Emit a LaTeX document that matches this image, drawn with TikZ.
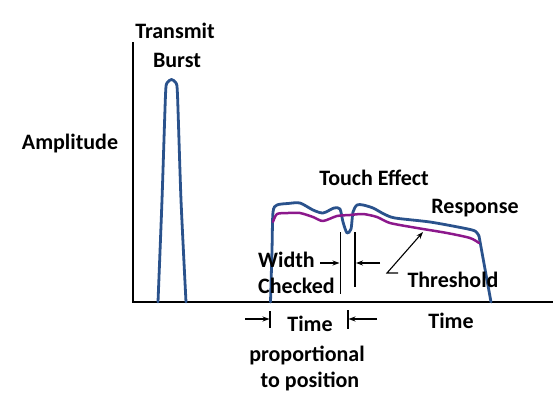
\documentclass[tikz,border=0pt]{standalone}
\usepackage{fontspec}
\setmainfont{Carlito}
\usetikzlibrary{arrows.meta}
\definecolor{sigblue}{RGB}{42,82,140}
\definecolor{thrpurple}{RGB}{140,24,140}
\tikzset{
  lbl/.style={font=\bfseries\fontsize{22}{27}\selectfont, inner sep=0pt, anchor=base},
  axisline/.style={line width=2.8pt, black},
  sig/.style={line width=2.8pt, sigblue, line join=round, line cap=round},
  thr/.style={line width=2.5pt, thrpurple, line join=round, line cap=round},
  marker/.style={line width=1.1pt, black},
  pointer/.style={line width=1.1pt, black, -{Stealth[length=7pt,width=5pt]}},
}
\begin{document}
\begin{tikzpicture}[x=1pt,y=-1pt]
\useasboundingbox (0,0) rectangle (558,397);
% axes
\coordinate (ytop) at (133,42);
\coordinate (orig) at (133,302);
\coordinate (xend) at (553,302);
\draw[axisline] (ytop) -- (orig) -- (xend);
% transmit burst
\draw[sig] plot[smooth, tension=0.4] coordinates {(158,302) (162,200) (165.5,95) (167,83) (171.5,79.5) (176,83) (177.5,95) (181,200) (186,302)};
% response
\draw[sig] plot[smooth, tension=0.45] coordinates {(270.5,302) (272,250) (273,212) (277,205) (288,203.5) (300,203) (313,210) (323,213) (334,208) (340,209) (343,222) (347,233) (351,229) (353,212) (357,205) (363,205) (373,208) (384,214) (395,218) (430,222) (463,228) (475,231) (479,236)};
\draw[sig] (479,236) -- (491,302);
% threshold
\draw[thr] plot[smooth, tension=0.45] coordinates {(273,222) (277,214) (288,213) (300,213) (313,217) (323,221) (337,216) (350,215) (363,214) (377,217) (390,223) (417,228) (447,233) (470,238) (479,243)};
% labels
\node[lbl] (transmit) at (175,38) {Transmit};
\node[lbl] (burst) at (177,67) {Burst};
\node[lbl] (amp) at (70,149) {Amplitude};
\node[lbl] (touch) at (374,185) {Touch Effect};
\node[lbl] (resp) at (475,213) {Response};
\node[lbl, anchor=base west] (width) at (258,267) {Width};
\node[lbl, anchor=base west] (checked) at (258,293) {Checked};
\node[lbl] (thresh) at (453,287) {Threshold};
\node[lbl] (time1) at (310,331) {Time};
\node[lbl] (prop) at (307,361) {proportional};
\node[lbl] (topos) at (310,387) {to position};
\node[lbl] (time2) at (451,328) {Time};
% width markers
\coordinate (wa1) at (340.5,232); \coordinate (wa2) at (340.5,294);
\coordinate (wb1) at (355,232); \coordinate (wb2) at (355,287);
\draw[marker] (wa1) -- (wa2);
\draw[marker] (wb1) -- (wb2);
\coordinate (wl0) at (320,263); \coordinate (wl1) at (339.5,263);
\coordinate (wr0) at (380,263); \coordinate (wr1) at (356,263);
\draw[pointer] (wl0) -- (wl1);
\draw[pointer] (wr0) -- (wr1);
% threshold pointer
\coordinate (th0) at (398,273); \coordinate (th1) at (387,273); \coordinate (th2) at (423,232);
\draw[pointer] (th0) -- (th1) -- (th2);
% time markers
\coordinate (ta1) at (270,311); \coordinate (ta2) at (270,328);
\coordinate (tb1) at (348,310); \coordinate (tb2) at (348,329);
\draw[marker] (ta1) -- (ta2);
\draw[marker] (tb1) -- (tb2);
\coordinate (tl0) at (245,319); \coordinate (tl1) at (269.5,319);
\coordinate (tr0) at (377,319); \coordinate (tr1) at (348.5,319);
\draw[pointer] (tl0) -- (tl1);
\draw[pointer] (tr0) -- (tr1);
\end{tikzpicture}
\end{document}
